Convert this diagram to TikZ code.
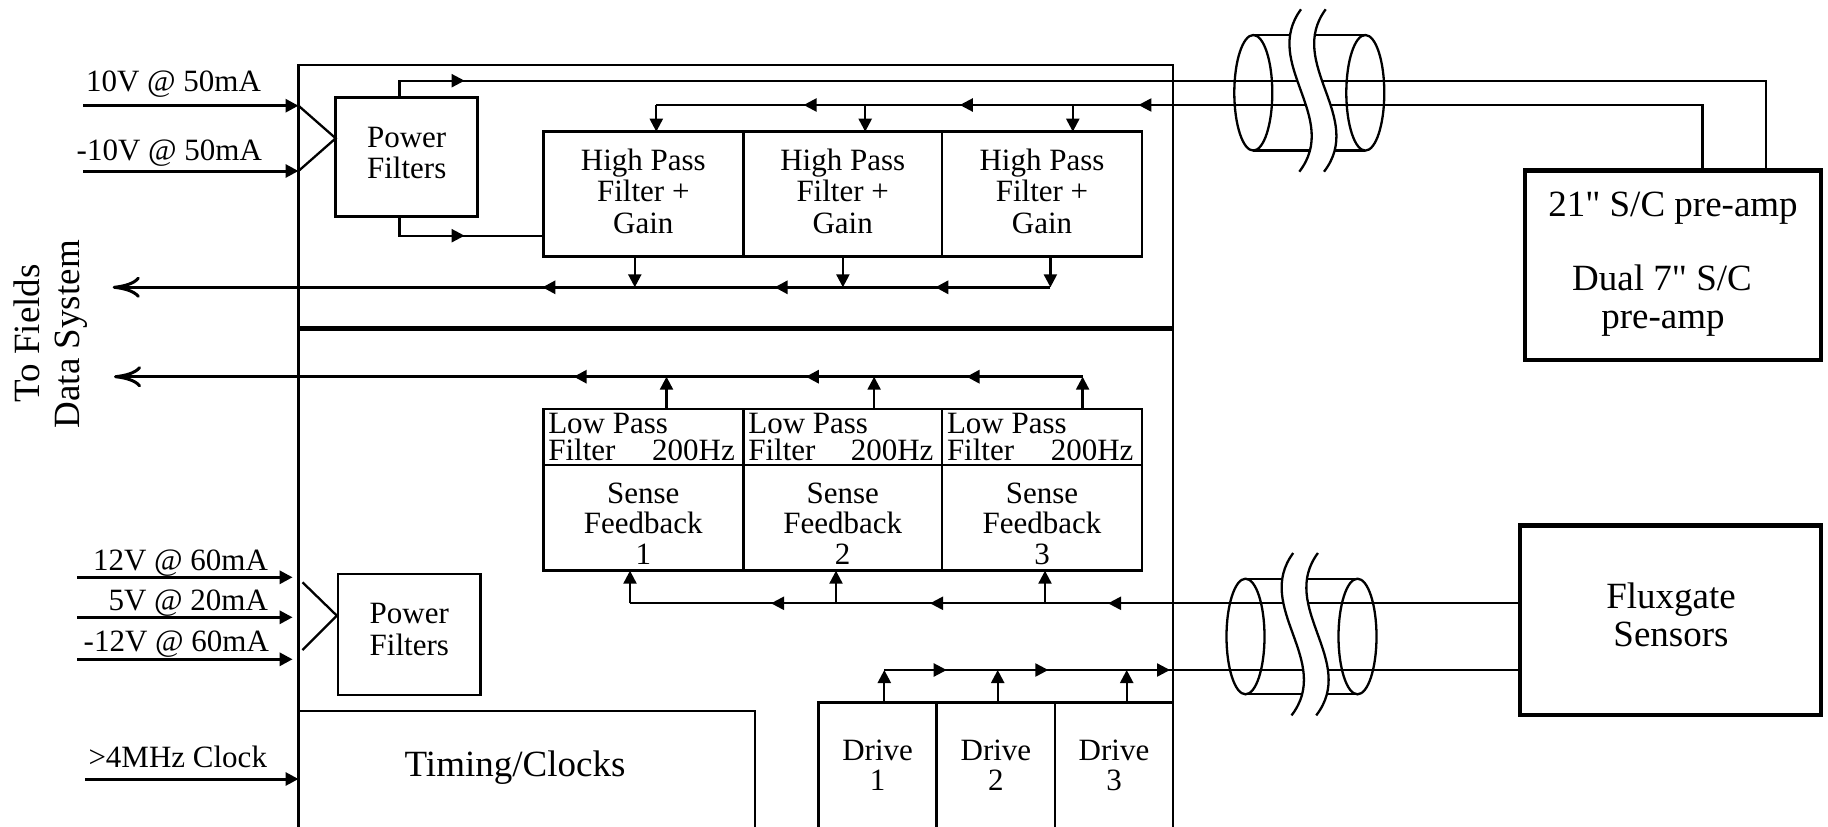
\documentclass[tikz,border=0pt]{standalone}
\usepackage{fontspec}
\setmainfont{Liberation Serif}[Ligatures=TeXOff]
\usetikzlibrary{arrows.meta}
\begin{document}
\begin{tikzpicture}[x=1pt,y=-1pt,
  wire/.style={line width=2.3pt},
  feed/.style={line width=3pt},
  frame/.style={draw, line width=2.5pt, inner sep=0pt, outer sep=0pt},
  heavy/.style={draw, line width=4.5pt, inner sep=0pt, outer sep=0pt},
  tip/.style={-{Triangle[length=13pt,width=13pt]}},
  barb/.style={-{Computer Modern Rightarrow[length=27pt,width=21pt]}},
  sm/.style={font=\fontsize{31pt}{31pt}\selectfont, inner sep=0pt, outer sep=0pt},
  lg/.style={font=\fontsize{37pt}{37pt}\selectfont, inner sep=0pt, outer sep=0pt},
  cable/.pic={
    \draw[wire] (0,0) ellipse [x radius=19pt, y radius=57.8pt];
    \draw[wire] (112,0) ellipse [x radius=19pt, y radius=57.8pt];
    \draw[wire] (0,-57.8) -- (112,-57.8);
    \draw[wire] (0,57.8) -- (112,57.8);
    \fill[white] (47.7,-83.5) .. controls (7.7,-29.4) and (87.7,24.8) .. (46,78.9)
      -- (70.7,78.9) .. controls (112.4,24.8) and (32.4,-29.4) .. (72.4,-83.5) -- cycle;
    \draw[wire] (47.7,-83.5) .. controls (7.7,-29.4) and (87.7,24.8) .. (46,78.9);
    \draw[wire] (72.4,-83.5) .. controls (32.4,-29.4) and (112.4,24.8) .. (70.7,78.9);
  }]
\useasboundingbox (0,0) rectangle (1828,827);

% ---------- boxes ----------
\node[frame, anchor=north west, minimum width=874.5pt, minimum height=763pt] (main) at (298.5,65) {};
\draw[line width=4.5pt] (main.west |- 0,328.7) -- (main.east |- 0,328.7);

\node[frame, anchor=north west, minimum width=142pt, minimum height=119.4pt] (pfa) at (335.7,97.3) {};
\node[frame, anchor=north west, minimum width=142.3pt, minimum height=121pt] (pfb) at (338.1,574) {};

\node[frame, anchor=north west, minimum width=200pt, minimum height=125pt] (hp1) at (543.3,131.7) {};
\node[frame, anchor=north west, minimum width=198.7pt, minimum height=125pt] (hp2) at (743.3,131.7) {};
\node[frame, anchor=north west, minimum width=200pt, minimum height=125pt] (hp3) at (942,131.7) {};

\node[frame, anchor=north west, minimum width=200pt, minimum height=56pt] (lp1) at (543.3,409) {};
\node[frame, anchor=north west, minimum width=198.7pt, minimum height=56pt] (lp2) at (743.3,409) {};
\node[frame, anchor=north west, minimum width=200pt, minimum height=56pt] (lp3) at (942,409) {};

\node[frame, anchor=north west, minimum width=200pt, minimum height=105.7pt] (sf1) at (543.3,465) {};
\node[frame, anchor=north west, minimum width=198.7pt, minimum height=105.7pt] (sf2) at (743.3,465) {};
\node[frame, anchor=north west, minimum width=200pt, minimum height=105.7pt] (sf3) at (942,465) {};

\node[frame, anchor=north west, minimum width=118.2pt, minimum height=126pt] (dr1) at (818.5,702.5) {};
\node[frame, anchor=north west, minimum width=118.3pt, minimum height=126pt] (dr2) at (936.7,702.5) {};
\node[frame, anchor=north west, minimum width=118pt, minimum height=126pt] (dr3) at (1055,702.5) {};

\node[frame, anchor=north west, minimum width=456.5pt, minimum height=117pt] (tim) at (298.5,711) {};

\node[heavy, anchor=north west, minimum width=296pt, minimum height=189.3pt] (pre) at (1525,170.7) {};
\node[heavy, anchor=north west, minimum width=301pt, minimum height=189.5pt] (flux) at (1520,525.5) {};

% ---------- box texts ----------
\node[sm, anchor=base] (pfa1) at (406.7,147.3) {Power};
\node[sm, anchor=base] (pfa2) at (406.7,178.3) {Filters};
\node[sm, anchor=base] (pfb1) at (409.3,623.3) {Power};
\node[sm, anchor=base] (pfb2) at (409.3,655) {Filters};

\foreach \n/\cx in {1/643.3, 2/842.7, 3/1042} {
  \node[sm, anchor=base] (hpa\n) at (\cx,170.7) {High Pass};
  \node[sm, anchor=base] (hpb\n) at (\cx,201.7) {Filter +};
  \node[sm, anchor=base] (hpc\n) at (\cx,233.3) {Gain};
  \node[sm, anchor=base] (sfa\n) at (\cx,503.3) {Sense};
  \node[sm, anchor=base] (sfb\n) at (\cx,533.3) {Feedback};
  \node[sm, anchor=base] (sfc\n) at (\cx,564) {\n};
}
\foreach \n in {1,2,3} {
  \node[sm, anchor=base west] (lpa\n) at ([xshift=5pt]lp\n.north west |- 0,433.3) {Low Pass};
  \node[sm, anchor=base west] (lpb\n) at ([xshift=5pt]lp\n.north west |- 0,460) {Filter};
  \node[sm, anchor=base east] (lpc\n) at ([xshift=-8.5pt]lp\n.north east |- 0,460) {200Hz};
}
\foreach \n/\cx in {1/877.6, 2/995.9, 3/1114} {
  \node[sm, anchor=base] (dra\n) at (\cx,760) {Drive};
  \node[sm, anchor=base] (drb\n) at (\cx,790) {\n};
}
\node[lg, anchor=base] (timt) at (515,776.7) {Timing/Clocks};
\node[lg, anchor=base] (prea) at (1673,216.7) {21" S/C pre-amp};
\node[lg, anchor=base] (preb) at (1662,290) {Dual 7" S/C};
\node[lg, anchor=base] (prec) at (1663,328.3) {pre-amp};
\node[lg, anchor=base] (fla) at (1671,608.3) {Fluxgate};
\node[lg, anchor=base] (flb) at (1671,646.7) {Sensors};
\node[lg, anchor=base, rotate=90] (dsa) at (39,333.3) {To Fields};
\node[lg, anchor=base, rotate=90] (dsb) at (79,334.2) {Data System};

% ---------- power and clock inputs ----------
\node[sm, anchor=base east] (l10) at (261,91.7) {10V @ 50mA};
\node[sm, anchor=base east] (lm10) at (262,160.7) {-10V @ 50mA};
\node[sm, anchor=base east] (l12) at (268,570.7) {12V @ 60mA};
\node[sm, anchor=base east] (l5) at (268,610) {5V @ 20mA};
\node[sm, anchor=base east] (lm12) at (269,651.7) {-12V @ 60mA};
\node[sm, anchor=base east] (lclk) at (267,767.3) {>4MHz Clock};

\coordinate (in10) at (83,105.7);
\coordinate (inm10) at (83,171);
\draw[feed,tip] (in10) -- (in10 -| main.west);
\draw[feed,tip] (inm10) -- (inm10 -| main.west);
\coordinate (va) at (335.7,138.3);
\draw[wire] (in10 -| main.west) -- (va) -- (inm10 -| main.west);

\coordinate (in12) at (77,577.3);
\coordinate (in5) at (77,617.3);
\coordinate (inm12) at (77,659.3);
\coordinate (e12) at (292.6,577.3);
\draw[feed,tip] (in12) -- (e12);
\draw[feed,tip] (in5) -- (e12 |- in5);
\draw[feed,tip] (inm12) -- (e12 |- inm12);
\coordinate (vba) at (302.5,582.3);
\coordinate (vbb) at (336.9,615.7);
\coordinate (vbc) at (302.5,650);
\draw[wire] (vba) -- (vbb) -- (vbc);

\coordinate (inclk) at (85,779);
\draw[feed,tip] (inclk) -- (inclk -| tim.west);

% ---------- power filter outputs ----------
\coordinate (pwA) at (399.4,80.7);
\coordinate (pwB) at (1766,80.7);
\draw[wire] (pwA |- pfa.north) -- (pwA) -- (pwB) -- (pwB |- pre.north);
\draw[wire,tip] (451.6,80.7) -- (464.6,80.7);
\coordinate (pwC) at (399.4,235.7);
\draw[wire] (pwC |- pfa.south) -- (pwC) -- (pwC -| hp1.west);
\draw[wire,tip] (451.6,235.7) -- (464.6,235.7);

% ---------- high pass chain ----------
\coordinate (hiR) at (1702.5,105);
\coordinate (hi1) at (656.3,105);
\coordinate (hi2) at (865.2,105);
\coordinate (hi3) at (1072.8,105);
\draw[wire] (hiR |- pre.north) -- (hiR) -- (hi1);
\draw[wire,tip] (hi1) -- (hi1 |- hp1.north);
\draw[wire,tip] (hi2) -- (hi2 |- hp2.north);
\draw[wire,tip] (hi3) -- (hi3 |- hp3.north);
\foreach \x in {803.6, 959.8, 1138.4} \draw[wire,tip] (\x+13,105) -- (\x,105);

\coordinate (ho1) at (634.8,287.3);
\coordinate (ho2) at (842.9,287.3);
\coordinate (ho3) at (1050.4,287.3);
\coordinate (fdsA) at (112.7,287.3);
\draw[wire,tip] (ho1 |- hp1.south) -- (ho1);
\draw[wire,tip] (ho2 |- hp2.south) -- (ho2);
\draw[wire,tip] (ho3 |- hp3.south) -- (ho3);
\draw[feed,barb] (ho3) -- (fdsA);
\foreach \x in {542.4, 774.6, 935.3} \draw[feed,tip] (\x+13,287.3) -- (\x,287.3);

% ---------- low pass chain ----------
\coordinate (lo1) at (666.5,376.7);
\coordinate (lo2) at (874.1,376.7);
\coordinate (lo3) at (1082.6,376.7);
\coordinate (fdsB) at (114,376.7);
\draw[wire,tip] (lo1 |- lp1.north) -- (lo1);
\draw[wire,tip] (lo2 |- lp2.north) -- (lo2);
\draw[wire,tip] (lo3 |- lp3.north) -- (lo3);
\draw[feed,barb] (lo3) -- (fdsB);
\foreach \x in {573.7, 805.8, 966.5} \draw[feed,tip] (\x+13,376.7) -- (\x,376.7);

% ---------- sense lines ----------
\coordinate (si1) at (630,603.3);
\coordinate (si2) at (836,603.3);
\coordinate (si3) at (1045,603.3);
\draw[wire] (si1 -| flux.west) -- (si1);
\draw[wire,tip] (si1) -- (si1 |- sf1.south);
\draw[wire,tip] (si2) -- (si2 |- sf2.south);
\draw[wire,tip] (si3) -- (si3 |- sf3.south);
\foreach \x in {771, 930, 1108} \draw[wire,tip] (\x+13,603.3) -- (\x,603.3);

% ---------- drive lines ----------
\coordinate (do1) at (884.3,670);
\coordinate (do2) at (997.7,670);
\coordinate (do3) at (1126.7,670);
\draw[wire,tip] (do1 |- dr1.north) -- (do1);
\draw[wire,tip] (do2 |- dr2.north) -- (do2);
\draw[wire,tip] (do3 |- dr3.north) -- (do3);
\draw[wire] (do1) -- (do1 -| flux.west);
\foreach \x in {946.7, 1048.3, 1170} \draw[wire,tip] (\x-13,670) -- (\x,670);

% ---------- harness symbols ----------
\pic at (1253.3,92.8) {cable};
\pic at (1245.5,636.5) {cable};
\end{tikzpicture}
\end{document}
